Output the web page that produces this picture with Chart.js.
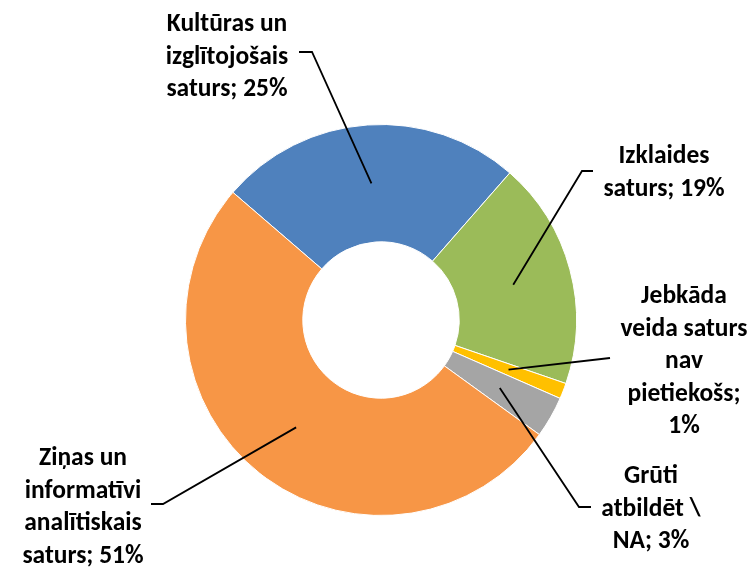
<!DOCTYPE html>
<html>
<head>
<meta charset="utf-8">
<script src="https://cdn.jsdelivr.net/npm/chart.js@4/dist/chart.umd.min.js"></script>
<style>
  html, body { margin: 0; padding: 0; background: #fff; }
  #wrap { width: 754px; height: 567px; position: relative; }
</style>
</head>
<body>
<div id="wrap"><canvas id="c"></canvas></div>
<script>
// Survey answers: which kind of content is lacking
const categories = [
  'Kultūras un izglītojošais saturs',
  'Izklaides saturs',
  'Jebkāda veida saturs nav pietiekošs',
  'Grūti atbildēt \\ NA',
  'Ziņas un informatīvi analītiskais saturs'
];
const shares = [25.1, 18.8, 1.3, 3.4, 51.3];
const sliceColors = ['#4F81BD', '#9BBB59', '#FFC000', '#A5A5A5', '#F79646'];

// words per wrapped line of each label ("name; NN%")
const wordsPerLine = [[2, 1, 2], [1, 2], [1, 2, 1, 1, 1], [1, 2, 2], [2, 1, 1, 2]];

// label block placement and leader line bends
const labelLayout = [
  { x: 227, y: 31,  bend: [[312, 52], [299, 52]] },
  { x: 664, y: 163, bend: [[582, 171], [593, 171]] },
  { x: 684, y: 303, bend: [[610, 358]] },
  { x: 651, y: 483, bend: [[579, 507], [591, 507]] },
  { x: 83,  y: 465, bend: [[163, 504], [151, 504]] }
];
const lineStep = 32.5;
const labelFont = 'bold 25.5px Carlito, Calibri, Lato, sans-serif';

const calloutPlugin = {
  id: 'callouts',
  afterDatasetsDraw(chart) {
    const ctx = chart.ctx;
    const meta = chart.getDatasetMeta(0);
    const data = chart.data.datasets[0].data;
    ctx.save();
    meta.data.forEach((arc, i) => {
      const lay = labelLayout[i];
      const start = arc.getCenterPoint();
      ctx.beginPath();
      ctx.moveTo(start.x, start.y);
      lay.bend.forEach(p => ctx.lineTo(p[0], p[1]));
      ctx.strokeStyle = '#000';
      ctx.lineWidth = 1.8;
      ctx.lineJoin = 'miter';
      ctx.stroke();

      const text = chart.data.labels[i] + '; ' + Math.round(data[i]) + '%';
      const words = text.split(' ');
      const lines = [];
      let k = 0;
      wordsPerLine[i].forEach(n => {
        lines.push(words.slice(k, k + n).join(' '));
        k += n;
      });
      ctx.font = labelFont;
      ctx.fillStyle = '#000';
      ctx.textAlign = 'center';
      ctx.textBaseline = 'alphabetic';
      lines.forEach((ln, j) => ctx.fillText(ln, lay.x, lay.y + j * lineStep));
    });
    ctx.restore();
  }
};

new Chart(document.getElementById('c'), {
  type: 'doughnut',
  data: {
    labels: categories,
    datasets: [{
      data: shares,
      backgroundColor: sliceColors,
      borderColor: '#ffffff',
      borderWidth: 1
    }]
  },
  options: {
    responsive: true,
    maintainAspectRatio: false,
    animation: false,
    cutout: '40%',
    rotation: -49.24,
    layout: { padding: { left: 185, top: 124, right: 177, bottom: 51 } },
    plugins: {
      legend: { display: false },
      tooltip: { enabled: false }
    }
  },
  plugins: [calloutPlugin]
});
</script>
</body>
</html>
